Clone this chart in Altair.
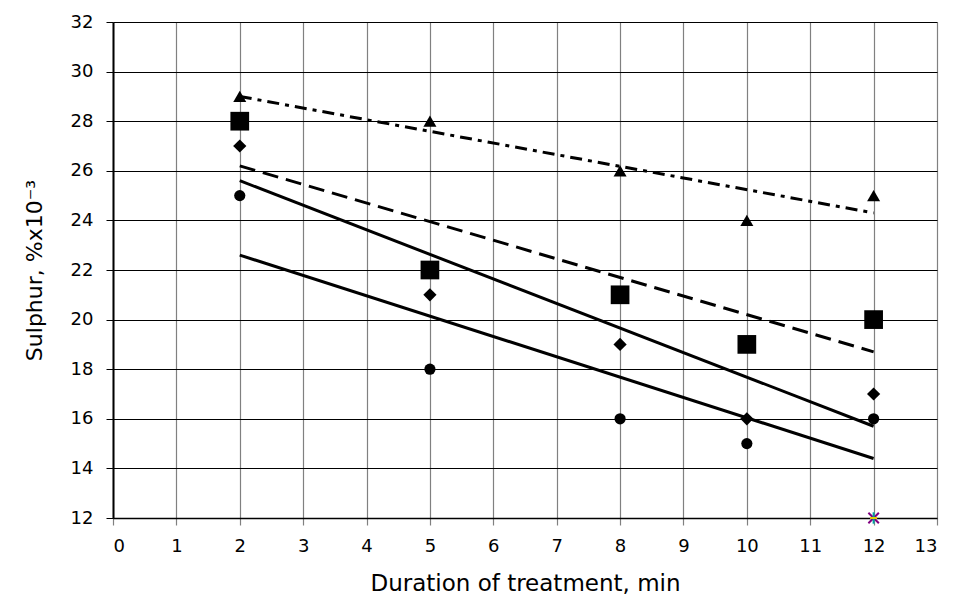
import altair as alt
import pandas as pd

# ---- data ----
x_vals = [2, 5, 8, 10, 12]
triangles = [29, 28, 26, 24, 25]
squares = [28, 22, 21, 19, 20]
diamonds = [27, 21, 19, 16, 17]
circles = [25, 18, 16, 15, 16]

# trend lines (end points)
trend_x = [2, 12]
triangle_trend = [29.0, 24.3]
square_trend = [26.2, 18.7]
diamond_trend = [25.6, 15.7]
circle_trend = [22.6, 14.4]

star_x = [12]
star_y = [12]
x_ticks = list(range(0, 14))
y_ticks = list(range(12, 33, 2))

series = {"triangle": triangles, "square": squares, "diamond": diamonds, "circle": circles}
trends = {"triangle": triangle_trend, "square": square_trend,
          "diamond": diamond_trend, "circle": circle_trend}

rows = []
for name, vals in series.items():
    for xv, yv in zip(x_vals, vals):
        rows.append({"series": name, "x": xv, "y": yv})
df = pd.DataFrame(rows)

trows = []
for name, vals in trends.items():
    for xv, yv in zip(trend_x, vals):
        trows.append({"series": name, "x": xv, "y": yv})
tdf = pd.DataFrame(trows)

star_df = pd.DataFrame({"x": star_x, "y": star_y})

FONT = "DejaVu Sans"

xs = alt.X(
    "x:Q",
    scale=alt.Scale(domain=[0, 13], nice=False, zero=False),
    axis=alt.Axis(
        values=x_ticks, title="Duration of treatment, min", grid=True,
        gridColor="#808080", gridWidth=1.2, tickColor="#808080", tickSize=7, tickWidth=1.2,
        domainColor="black", domainWidth=1.5, labelFontSize=18, labelPadding=12,
        labelColor="black", labelFont=FONT, titleFont=FONT, titleFontSize=23,
        titleFontWeight="normal", titleColor="black", titlePadding=17,
    ),
)
ys = alt.Y(
    "y:Q",
    scale=alt.Scale(domain=[12, 32], nice=False, zero=False),
    axis=alt.Axis(
        values=y_ticks, title="Sulphur, %x10⁻³", grid=True,
        gridColor="black", gridWidth=1, tickColor="black", tickSize=7,
        domainColor="black", domainWidth=2, labelFontSize=18, labelPadding=13,
        labelColor="black", labelFont=FONT, titleFont=FONT, titleFontSize=22,
        titleFontWeight="normal", titleColor="black", titlePadding=24,
    ),
)

base = alt.Chart(df)
tbase = alt.Chart(tdf)


def pts(name, shape, size):
    return base.transform_filter(alt.datum.series == name).mark_point(
        shape=shape, size=size, filled=True, color="black", opacity=1
    ).encode(x=xs, y=ys)


def trend(name, dash):
    kw = {"strokeDash": dash} if dash else {}
    return tbase.transform_filter(alt.datum.series == name).mark_line(
        color="black", strokeWidth=3, **kw
    ).encode(x=xs, y=ys)


star_base = alt.Chart(star_df)
star1 = star_base.mark_point(shape="M-1,-1L1,1M-1,1L1,-1", size=110, stroke="#800080",
                             strokeWidth=2, opacity=1).encode(x=xs, y=ys)
star2 = star_base.mark_point(shape="M0,-1L0,1", size=130, stroke="#00a0a0",
                             strokeWidth=2, opacity=1).encode(x=xs, y=ys)
star3 = star_base.mark_point(shape="M-1,0L1,0", size=50, stroke="#e0d000",
                             strokeWidth=2, opacity=1).encode(x=xs, y=ys)

chart = alt.layer(
    trend("triangle", [12, 6, 4, 6]),
    trend("square", [16, 8]),
    trend("diamond", None),
    trend("circle", None),
    pts("triangle", "triangle-up", 170),
    pts("square", "square", 350),
    pts("diamond", "diamond", 175),
    pts("circle", "circle", 125),
    star1, star2, star3,
).properties(
    width=824, height=496,
    autosize=alt.AutoSizeParams(type="none"),
    padding={"left": 113, "top": 22, "right": 18, "bottom": 83},
    background="white",
).configure_view(stroke=None)

chart.save("out.html", embed_options={"renderer": "svg", "actions": False})
